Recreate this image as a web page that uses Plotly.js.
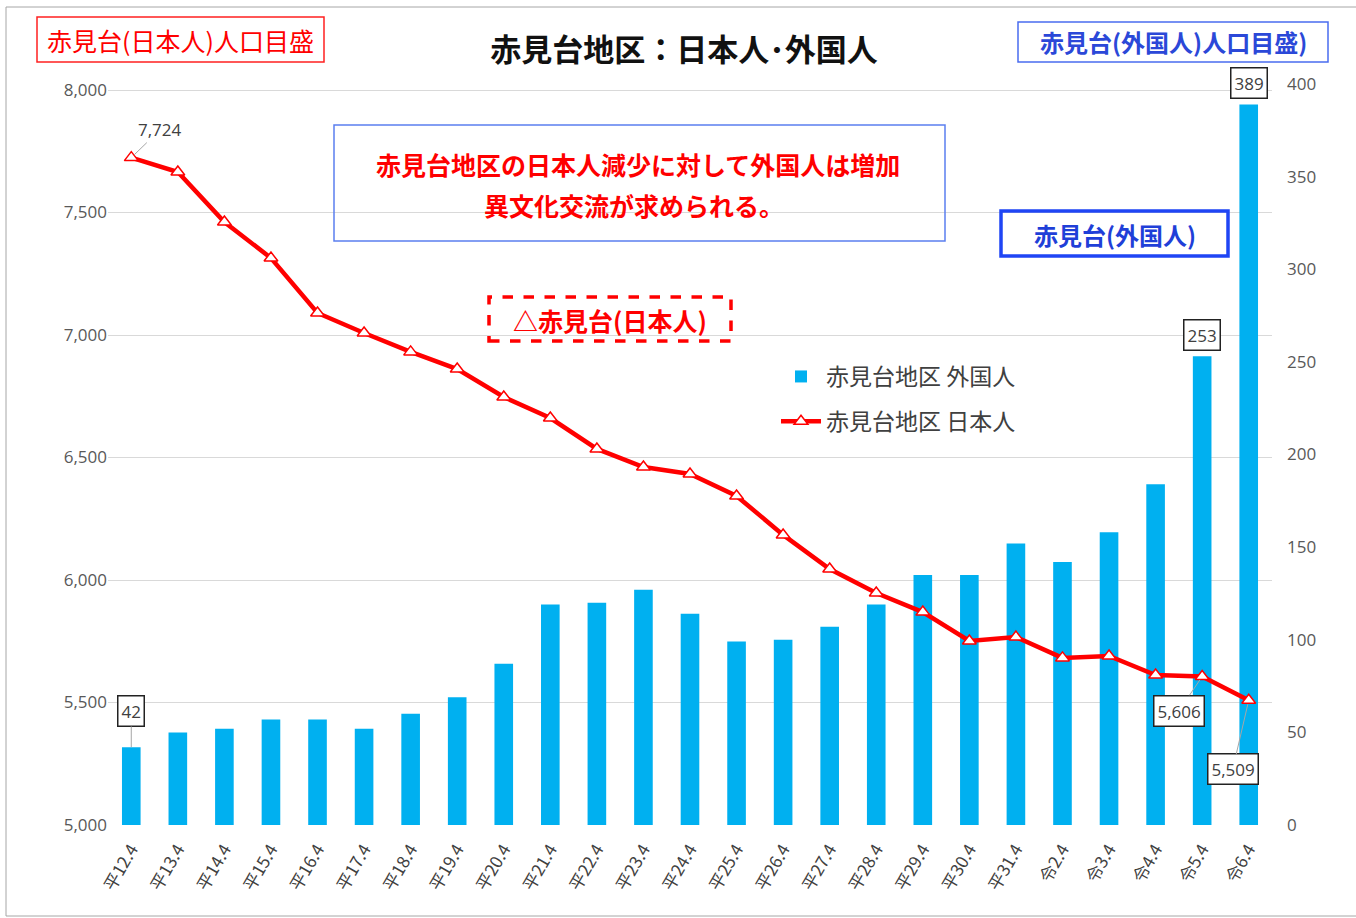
<!DOCTYPE html>
<html><head><meta charset="utf-8">
<script src="https://cdn.plot.ly/plotly-3.0.1.min.js"></script>
<style>html,body{margin:0;padding:0;background:#fff;}#chart{width:1356px;height:918px;}</style>
</head><body><div id="chart"></div>
<script>
const categories = ['平12.4','平13.4','平14.4','平15.4','平16.4','平17.4','平18.4','平19.4','平20.4','平21.4','平22.4','平23.4','平24.4','平25.4','平26.4','平27.4','平28.4','平29.4','平30.4','平31.4','令2.4','令3.4','令4.4','令5.4','令6.4'];
const foreignPop = [42,50,52,57,57,52,60,69,87,119,120,127,114,99,100,107,119,135,135,152,142,158,184,253,389];
const japanesePop = [7724,7665,7461,7314,7090,7008,6931,6861,6747,6661,6535,6461,6433,6343,6184,6045,5947,5869,5751,5767,5682,5690,5612,5606,5509];
const leftTicks = [5000,5500,6000,6500,7000,7500,8000];
const rightTicks = [0,50,100,150,200,250,300,350,400];

const JP = '"Noto Sans CJK JP", "Noto Sans", sans-serif';
const NUM = '"Open Sans", "Noto Sans", sans-serif';

// plot area in pixels
const L = 108, R = 1272, T = 84, B = 825;
const W = 1356, H = 918;
const px = v => (v - L) / (R - L);
const py = v => (B - v) / (B - T);

const traces = [
  {type:'bar', name:'赤見台地区 外国人', x:categories, y:foreignPop, yaxis:'y',
   marker:{color:'#00b0f0'}, legendgroup:'a', hoverinfo:'x+y'},
  {type:'scatter', mode:'lines+markers', name:'赤見台地区 日本人', x:categories, y:japanesePop, yaxis:'y2',
   line:{color:'#ff0000', width:4.5},
   marker:{symbol:'triangle-up', size:12, color:'#ffffff', line:{color:'#ff0000', width:1.5}},
   legendgroup:'b', hoverinfo:'x+y'}
];

function rectShape(x0,y0,x1,y1,color,width,dash){
  return {type:'rect', xref:'paper', yref:'paper', x0:px(x0), x1:px(x1), y0:py(y1), y1:py(y0),
    line:{color:color, width:width, dash:dash||'solid'}, fillcolor:'rgba(0,0,0,0)', layer:'above'};
}
function textAnn(x,y,text,color,size,bold){
  return {xref:'paper', yref:'paper', x:px(x), y:py(y), xanchor:'center', yanchor:'middle',
    text: bold ? '<b>'+text+'</b>' : text, showarrow:false,
    font:{family:JP, size:size, color:color}};
}

const shapes = [
  rectShape(6,7,1362,916,'#a6a6a6',1),
  rectShape(37,17,324,62,'#ff2020',1.5),
  rectShape(1018,22,1328,62,'#4a6cf0',1.5),
  rectShape(334,125,945,241,'#5b7ff0',1.5),
  rectShape(1001,211,1228,256,'#1f45f5',3.5),
  rectShape(489,297,731,341,'#ff0000',3.5,'dash')
];

const labelFont = {family:NUM, size:17, color:'#404040'};
const boxed = {bordercolor:'#222222', borderwidth:1.5, bgcolor:'#ffffff', borderpad:3, font:labelFont};

const annotations = [
  textAnn(180,40,'赤見台(日本人)人口目盛','#ff0000',25,false),
  textAnn(1173,42,'<b>赤見台(外国人)人口目盛)</b>','#2b48d8',24,false),
  textAnn(638,164,'赤見台地区の日本人減少に対して外国人は増加','#ff0000',25,true),
  textAnn(634,205,'異文化交流が求められる。','#ff0000',25,true),
  textAnn(1115,234,'赤見台(外国人)','#1f3fd8',24,true),
  textAnn(610,320,'△赤見台(日本人)','#ff0000',25,true),
  // data labels
  {x:categories[0], y:japanesePop[0], xref:'x', yref:'y2', text:'7,724',
    showarrow:true, arrowhead:0, arrowwidth:1, arrowcolor:'#a6a6a6', ax:29, ay:-28, standoff:4,
    font:labelFont},
  Object.assign({x:categories[0], y:foreignPop[0], xref:'x', yref:'y', text:'42',
    showarrow:true, arrowhead:0, arrowwidth:1, arrowcolor:'#a6a6a6', ax:0, ay:-36}, boxed),
  Object.assign({x:categories[23], y:foreignPop[23], xref:'x', yref:'y', text:'253',
    showarrow:false, yshift:21}, boxed),
  Object.assign({x:categories[24], y:foreignPop[24], xref:'x', yref:'y', text:'389',
    showarrow:false, yshift:21}, boxed),
  Object.assign({x:categories[23], y:japanesePop[23], xref:'x', yref:'y2', text:'5,606',
    showarrow:true, arrowhead:0, arrowwidth:1, arrowcolor:'#a6a6a6', ax:-23, ay:34, standoff:4}, boxed),
  Object.assign({x:categories[24], y:japanesePop[24], xref:'x', yref:'y2', text:'5,509',
    showarrow:true, arrowhead:0, arrowwidth:1, arrowcolor:'#a6a6a6', ax:-16, ay:69, standoff:4}, boxed)
];

const layout = {
  width:W, height:H,
  margin:{l:L, r:W-R, t:T, b:H-B, pad:0},
  paper_bgcolor:'#ffffff', plot_bgcolor:'#ffffff',
  title:{text:'<b>赤見台地区：日本人･外国人</b>', x:684/W, xanchor:'center', y:1-50/H, yanchor:'middle',
    font:{family:JP, size:31, color:'#111111'}},
  bargap:0.6,
  showlegend:true,
  legend:{x:px(776), y:py(355), xanchor:'left', yanchor:'top', bgcolor:'rgba(255,255,255,0)',
    font:{family:JP, size:23, color:'#404040'}, traceorder:'grouped', tracegroupgap:12, itemwidth:40},
  xaxis:{type:'category', range:[-0.5, categories.length-0.5], showgrid:false, zeroline:false, showline:false, ticks:'',
    tickangle:-60, ticklabelstandoff:10, tickfont:{family:JP, size:17, color:'#404040'}, automargin:false},
  yaxis:{side:'right', range:[0,400], tickvals:rightTicks, showgrid:false, zeroline:false, showline:false,
    ticks:'', ticklabelstandoff:14, tickfont:{family:NUM, size:17, color:'#595959'}, automargin:false},
  yaxis2:{side:'left', overlaying:'y', range:[5000, 5000 + 3000*(B-T)/735], tickvals:leftTicks, tickformat:',',
    showgrid:true, gridcolor:'#d9d9d9', gridwidth:1, zeroline:false, showline:false, ticks:'',
    tickfont:{family:NUM, size:17, color:'#595959'}, automargin:false},
  shapes:shapes,
  annotations:annotations
};

Plotly.newPlot('chart', traces, layout, {displayModeBar:false, staticPlot:true});
</script>
</body></html>
